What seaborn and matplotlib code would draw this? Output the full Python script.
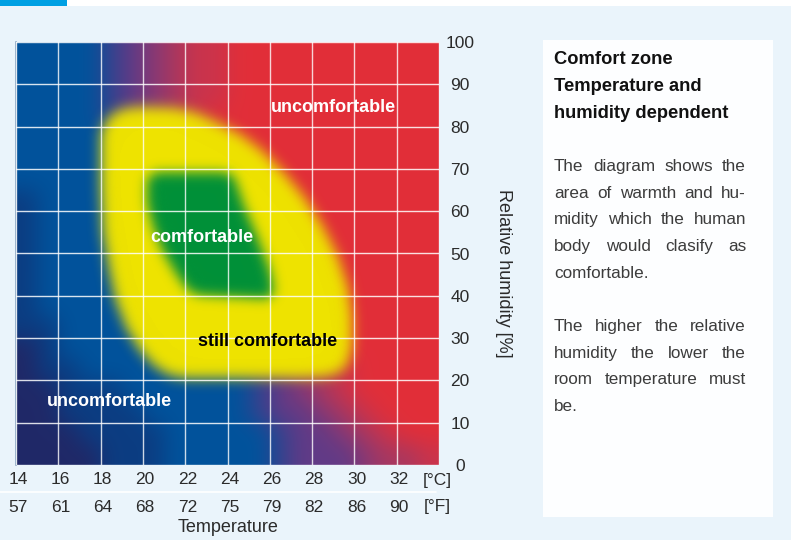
import matplotlib
matplotlib.use("Agg")
import matplotlib.pyplot as plt
import numpy as np
import seaborn as sns
from matplotlib.colors import ListedColormap
from matplotlib import transforms
from matplotlib.patches import Rectangle
from matplotlib.lines import Line2D

# ---------------- data ----------------
temp_c_ticks = [14, 16, 18, 20, 22, 24, 26, 28, 30, 32]
temp_f_ticks = [57, 61, 64, 68, 72, 75, 79, 82, 86, 90]
humidity_ticks = [0, 10, 20, 30, 40, 50, 60, 70, 80, 90, 100]
temp_range = [14, 34]
humidity_range = [0, 100]

# background (cold/dry -> hot/humid) classes,
# one cell = 1 degC x 5 % RH, first row = 95-100 % RH, columns 14..34 degC
bg_codes = "NDBIPQMSR"
bg_colors = ["#1f2867", "#0b3c82", "#00529c", "#34428f", "#613a87",
             "#883874", "#a9375f", "#cb334b", "#e22e38"]
bg_rows = [
    "BBBBIPQMSSRRRRRRRRRR",
    "BBBBIPQMSSRRRRRRRRRR",
    "BBBBIPQMSSRRRRRRRRRR",
    "BBBBIPQMSRRRRRRRRRRR",
    "BBBBBIPQMSRRRRRRRRRR",
    "BBBBBIPQMSRRRRRRRRRR",
    "BBBBBBIPQMSRRRRRRRRR",
    "DBBBBBIPQMSRRRRRRRRR",
    "DBBBBBBIPQMSRRRRRRRR",
    "DBBBBBBIPQMSRRRRRRRR",
    "DBBBBBBBIPQMSRRRRRRR",
    "DBBBBBBBIPQMSRRRRRRR",
    "DBBBBBBBBIPQMSRRRRRR",
    "DDBBBBBBBIPQMSRRRRRR",
    "NDBBBBBBBBIPQMSRRRRR",
    "NDDBBBBBBBBIPQMSRRRR",
    "NNDDDBBBBBBIPQMSRRRR",
    "NNDDDDBBBBBIPPQMSRRR",
    "NNNDDDDBBBBBIPPQMSRR",
    "NNNNDDDBBBBBIPPPQMMS",
]

# "still comfortable" zone outline (temperature degC, humidity %)
still_t = [18.0, 18.2, 18.6, 19.2, 20.0, 21.5, 22.5, 23.5, 24.6, 25.6, 26.6, 27.6,
           28.5, 29.2, 29.7, 29.9, 29.9, 29.7, 29.3, 28.6, 27.5, 22.0, 21.2, 20.5,
           19.8, 19.2, 18.7, 18.4, 18.1, 18.0]
still_h = [78.0, 81.0, 83.2, 84.4, 84.7, 84.4, 83.3, 81.0, 78.2, 74.5, 69.5, 63.5,
           56.5, 49.5, 42.0, 35.0, 28.0, 24.0, 21.8, 20.8, 20.5, 20.5, 21.3, 23.5,
           27.5, 32.5, 39.0, 46.0, 55.0, 66.0]
# "comfortable" zone outline
comf_t = [20.2, 20.6, 23.8, 24.3, 24.8, 25.4, 26.0, 26.2, 25.9, 22.6, 22.1, 21.6,
          21.0, 20.5, 20.2]
comf_h = [67.5, 69.2, 69.2, 68.3, 61.0, 54.0, 46.0, 41.0, 39.3, 40.2, 41.5, 45.0,
          50.0, 56.0, 62.0]
still_color = "#eee300"
comf_color = "#009139"

zone_labels = ["uncomfortable", "comfortable", "still comfortable", "uncomfortable"]
zone_label_t = [29.0, 22.8, 25.9, 18.4]
zone_label_h = [84.4, 53.9, 29.3, 14.9]
zone_label_colors = ["white", "white", "black", "white"]

title_lines = ["Comfort zone", "Temperature and", "humidity dependent"]
paragraph1 = ["The diagram shows the", "area of warmth and hu-",
              "midity which the human", "body would clasify as", "comfortable."]
paragraph2 = ["The higher the relative", "humidity the lower the",
              "room temperature must", "be."]

# ---------------- style ----------------
sns.set_theme(style="white")
plt.rcParams["font.family"] = ["Liberation Sans", "DejaVu Sans"]
BG = "#eaf4fb"
TXT = "#2b2b2b"

W, H = 791, 540
fig = plt.figure(figsize=(W / 100, H / 100), dpi=100, facecolor=BG)

# top strip
fig.patches.append(Rectangle((0, 1 - 6 / H), 1, 6 / H, transform=fig.transFigure,
                             facecolor="white", edgecolor="none"))
fig.patches.append(Rectangle((0, 1 - 6 / H), 67 / W, 6 / H, transform=fig.transFigure,
                             facecolor="#00a0e3", edgecolor="none"))
# right info panel
fig.patches.append(Rectangle((543 / W, 1 - 517 / H), 230 / W, 477 / H,
                             transform=fig.transFigure, facecolor="#fdfeff",
                             edgecolor="none"))

ax_l, ax_r, ax_t, ax_b = 16, 439, 42, 465
ax = fig.add_axes([ax_l / W, 1 - ax_b / H, (ax_r - ax_l) / W, (ax_b - ax_t) / H])
ax.set_facecolor(BG)


def _conv_valid(P, k):
    r = (len(k) - 1) // 2
    h, w = P.shape[0] - 2 * r, P.shape[1] - 2 * r
    tmp = np.zeros((P.shape[0], w, P.shape[2]))
    for i, kv in enumerate(k):
        tmp += kv * P[:, i:i + w]
    out = np.zeros((h, w, P.shape[2]))
    for i, kv in enumerate(k):
        out += kv * tmp[i:i + h]
    return out


class SoftEdges:
    """Gaussian blur filter for rendered artists (premultiplied)."""

    def __init__(self, sigma, edge_pad):
        self.sigma = sigma
        self.edge_pad = edge_pad

    def __call__(self, img, dpi):
        r = int(3 * self.sigma)
        k = np.exp(-0.5 * (np.arange(-r, r + 1) / self.sigma) ** 2)
        k /= k.sum()
        if self.edge_pad:
            P = np.pad(img, ((r, r), (r, r), (0, 0)), mode="edge").astype(float)
            off = 0
        else:
            P = np.pad(img, ((2 * r, 2 * r), (2 * r, 2 * r), (0, 0))).astype(float)
            off = -r
        P[..., :3] *= P[..., 3:4]
        out = _conv_valid(P, k)
        a = out[..., 3:4]
        out[..., :3] = np.where(a > 1e-6, out[..., :3] / np.maximum(a, 1e-6), 0)
        return np.clip(out, 0, 1), off, off


# background field
idx = np.array([[bg_codes.index(ch) for ch in row] for row in bg_rows])
im = ax.imshow(idx, cmap=ListedColormap(bg_colors), vmin=-0.5,
               vmax=len(bg_codes) - 0.5,
               extent=[temp_range[0], temp_range[1], humidity_range[0], humidity_range[1]],
               origin="upper", aspect="auto", interpolation="bilinear",
               interpolation_stage="rgba", zorder=0)
im.set_agg_filter(SoftEdges(9.0, True))

# comfort zones
for p in ax.fill(still_t, still_h, color=still_color, lw=0, zorder=1):
    p.set_agg_filter(SoftEdges(6.5, False))
for p in ax.fill(comf_t, comf_h, color=comf_color, lw=0, zorder=2):
    p.set_agg_filter(SoftEdges(6.0, False))

ax.set_xlim(temp_range)
ax.set_ylim(humidity_range)

# white grid
for t in range(temp_range[0], temp_range[1] + 1, 2):
    ax.axvline(t, color="white", lw=1.0, alpha=0.8, zorder=3)
for h in humidity_ticks:
    ax.axhline(h, color="white", lw=1.0, alpha=0.85, zorder=3)

for s in ["top", "right", "bottom"]:
    ax.spines[s].set_visible(False)
ax.spines["left"].set_color("#8fa9c4")
ax.spines["left"].set_linewidth(1.2)

# y ticks on the right, centred
ax.yaxis.tick_right()
ax.set_yticks(humidity_ticks)
ax.set_yticklabels([str(v) for v in humidity_ticks])
ax.tick_params(axis="y", length=0, pad=15, labelsize=12.5, labelcolor=TXT)
for lbl in ax.get_yticklabels():
    lbl.set_horizontalalignment("center")

# x labels (°C and °F rows)
ax.set_xticks([])
trans = transforms.blended_transform_factory(ax.transData, fig.transFigure)
for tc, tf in zip(temp_c_ticks, temp_f_ticks):
    ax.text(tc + 0.1, 1 - 480 / H, str(tc), transform=trans, ha="center", va="center",
            fontsize=12.5, color=TXT, clip_on=False)
    ax.text(tc + 0.1, 1 - 507 / H, str(tf), transform=trans, ha="center", va="center",
            fontsize=12.5, color=TXT, clip_on=False)
ax.text(temp_range[1] - 0.1, 1 - 480 / H, "[°C]", transform=trans, ha="center",
        va="center", fontsize=12.5, color=TXT, clip_on=False)
ax.text(temp_range[1] - 0.1, 1 - 507 / H, "[°F]", transform=trans, ha="center",
        va="center", fontsize=12.5, color=TXT, clip_on=False)
fig.add_artist(Line2D([0, 436 / W], [1 - 491.5 / H, 1 - 491.5 / H],
                      transform=fig.transFigure, color="white", lw=1.2))

fig.text(228.5 / W, 1 - 528 / H, "Temperature", ha="center", va="center",
         fontsize=13, color=TXT)
fig.text(503 / W, 1 - 273 / H, "Relative humidity [%]", ha="center", va="center",
         rotation=270, fontsize=13, color=TXT)

# zone labels
for txt, t, h, c in zip(zone_labels, zone_label_t, zone_label_h, zone_label_colors):
    ax.text(t, h, txt, ha="center", va="center", fontsize=13, fontweight="bold",
            color=c, zorder=5)

# info panel text
for i, line in enumerate(title_lines):
    fig.text(554 / W, 1 - (60 + 26.6 * i) / H, line, ha="left", va="center",
             fontsize=13.2, fontweight="bold", color="#111111")

renderer = fig.canvas.get_renderer()


def justified(lines, y0, x0=554, x1=746, step=26.6, size=12.3):
    space = 0.278 * size * 100 / 72
    for i, line in enumerate(lines):
        y = 1 - (y0 + step * i) / H
        words = line.split()
        texts = [fig.text(0, y, w, ha="left", va="center", fontsize=size,
                          color="#3c3c3c") for w in words]
        widths = [tt.get_window_extent(renderer).width for tt in texts]
        last = i == len(lines) - 1
        if last or len(words) == 1:
            gap = space
        else:
            gap = (x1 - x0 - sum(widths)) / (len(words) - 1)
        x = x0
        for tt, wd in zip(texts, widths):
            tt.set_x(x / W)
            x += wd + gap


justified(paragraph1, 166.7)
justified(paragraph2, 326.7)

fig.savefig("out.png", dpi=100, facecolor=BG)
